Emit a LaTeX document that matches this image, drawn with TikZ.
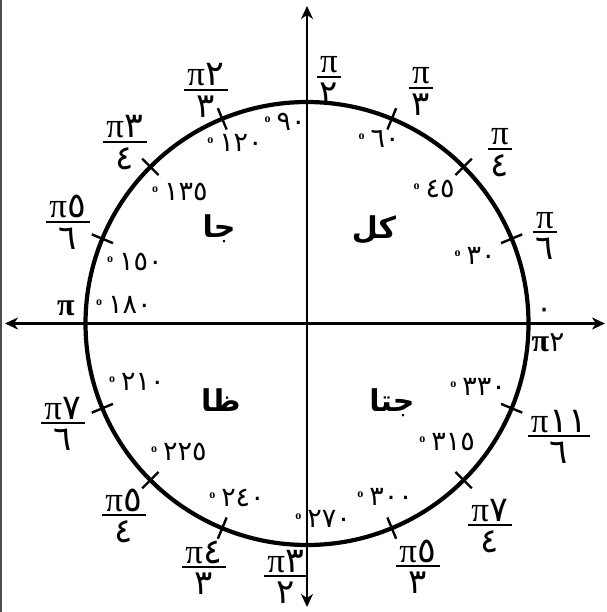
\documentclass[tikz,border=0pt]{standalone}
\usepackage{fontspec}
\setmainfont{Liberation Serif}
\newfontfamily\ar[Script=Arabic]{DejaVu Sans}
\TeXXeTstate=1
\usetikzlibrary{arrows.meta}
\newcommand\dg[1]{{\rmfamily\raisebox{8pt}{\fontsize{12}{12}\selectfont\bfseries o}}\hspace{6pt}{\ar #1}}
\newcommand\pp{π}
\newcommand\fracl[4]{%
  \coordinate (#1) at (#2);
  \node[fracnum] (#1n) at ([yshift=4pt]#1) {#3};
  \node[fracden] (#1d) at ([yshift=-5.5pt]#1) {\ar #4};
  \draw[fracbar] (#1n.west |- #1) -- (#1n.east |- #1);}
\tikzset{
  axis/.style={line width=2.8pt,{Stealth[length=13pt,width=12pt,inset=4pt]}-{Stealth[length=13pt,width=12pt,inset=4pt]}},
  ring/.style={line width=4.2pt},
  tickmark/.style={line width=2.4pt},
  fracnum/.style={anchor=base,font=\fontsize{35}{35}\selectfont,inner ysep=0pt,inner xsep=3pt},
  fracden/.style={anchor=north,font=\fontsize{34}{34}\selectfont,inner sep=0pt},
  fracbar/.style={line width=1.8pt},
  deglab/.style={font=\fontsize{27}{27}\selectfont,inner sep=0pt},
  quadlab/.style={font=\ar\bfseries\fontsize{30}{30}\selectfont,inner sep=0pt},
  boldpi/.style={font=\bfseries\fontsize{32}{32}\selectfont,inner sep=0pt},
}
\begin{document}
\begin{tikzpicture}[x=1pt,y=-1pt]
\useasboundingbox (0,0) rectangle (606,612);
\fill[white] (0,0) rectangle (606,612);
\draw[black!70,line width=1.5pt] (0.75,0) -- (0.75,612);
\coordinate (O) at (307,323.5);
\coordinate (L) at (5,323.5);
\coordinate (R) at (605,323.5);
\coordinate (T) at (307,6);
\coordinate (B) at (307,607);
\draw[axis] (L) -- (R);
\draw[axis] (B) -- (T);
\draw[ring] (O) circle[radius=221.5];
\foreach \a in {22.5,45,67.5,112.5,135,157.5,202.5,225,247.5,292.5,315,337.5}
  \draw[tickmark] ([shift={(\a:210)}]O) -- ([shift={(\a:233)}]O);
% fraction labels
\fracl{f90}{329,77}{\pp}{٢}
\fracl{f60}{421,88}{\pp}{٣}
\fracl{f45}{500,149}{\pp}{٤}
\fracl{f30}{545,232}{\pp}{٦}
\fracl{f120}{206,90}{\pp\hspace{1pt}{\ar ٢}}{٣}
\fracl{f135}{125,142}{\pp\hspace{1pt}{\ar ٣}}{٤}
\fracl{f150}{68,222}{\pp\hspace{1pt}{\ar ٥}}{٦}
\fracl{f210}{63,423}{\pp\hspace{1pt}{\ar ٧}}{٦}
\fracl{f225}{124,515}{\pp\hspace{1pt}{\ar ٥}}{٤}
\fracl{f240}{204,567}{\pp\hspace{1pt}{\ar ٤}}{٣}
\fracl{f270}{286,576}{\pp\hspace{1pt}{\ar ٣}}{٢}
\fracl{f300}{418,566}{\pp\hspace{1pt}{\ar ٥}}{٣}
\fracl{f315}{490,525}{\pp\hspace{1pt}{\ar ٧}}{٤}
\fracl{f330}{559,436}{\pp\hspace{1pt}{\ar ١١}}{٦}
% axis labels
\node[boldpi] (pi) at (66,308) {π};
\node[font=\ar\fontsize{30}{30}\selectfont,inner sep=0pt] (zero) at (545,313) {٠};
\node[boldpi] (twopi) at (548,343) {π{\ar\mdseries\fontsize{28}{28}\selectfont ٢}};
% degree labels
\node[deglab] (d90) at (285,122) {\dg{٩٠}};
\node[deglab] (d60) at (379,139) {\dg{٦٠}};
\node[deglab] (d45) at (434,189) {\dg{٤٥}};
\node[deglab] (d30) at (475,256) {\dg{٣٠}};
\node[deglab] (d120) at (235,143) {\dg{١٢٠}};
\node[deglab] (d135) at (180,192) {\dg{١٣٥}};
\node[deglab] (d150) at (135,262) {\dg{١٥٠}};
\node[deglab] (d180) at (124,305) {\dg{١٨٠}};
\node[deglab] (d210) at (137,382) {\dg{٢١٠}};
\node[deglab] (d225) at (179,452) {\dg{٢٢٥}};
\node[deglab] (d240) at (237,498) {\dg{٢٤٠}};
\node[deglab] (d270) at (323,519) {\dg{٢٧٠}};
\node[deglab] (d300) at (385,497) {\dg{٣٠٠}};
\node[deglab] (d315) at (447,442) {\dg{٣١٥}};
\node[deglab] (d330) at (478,387) {\dg{٣٣٠}};
% quadrant labels
\node[quadlab] (q1) at (374,230) {\beginR كل\endR};
\node[quadlab] (q2) at (219,229) {\beginR جا\endR};
\node[quadlab] (q3) at (221,400) {\beginR ظا\endR};
\node[quadlab] (q4) at (392,403) {\beginR جتا\endR};
\end{tikzpicture}
\end{document}
